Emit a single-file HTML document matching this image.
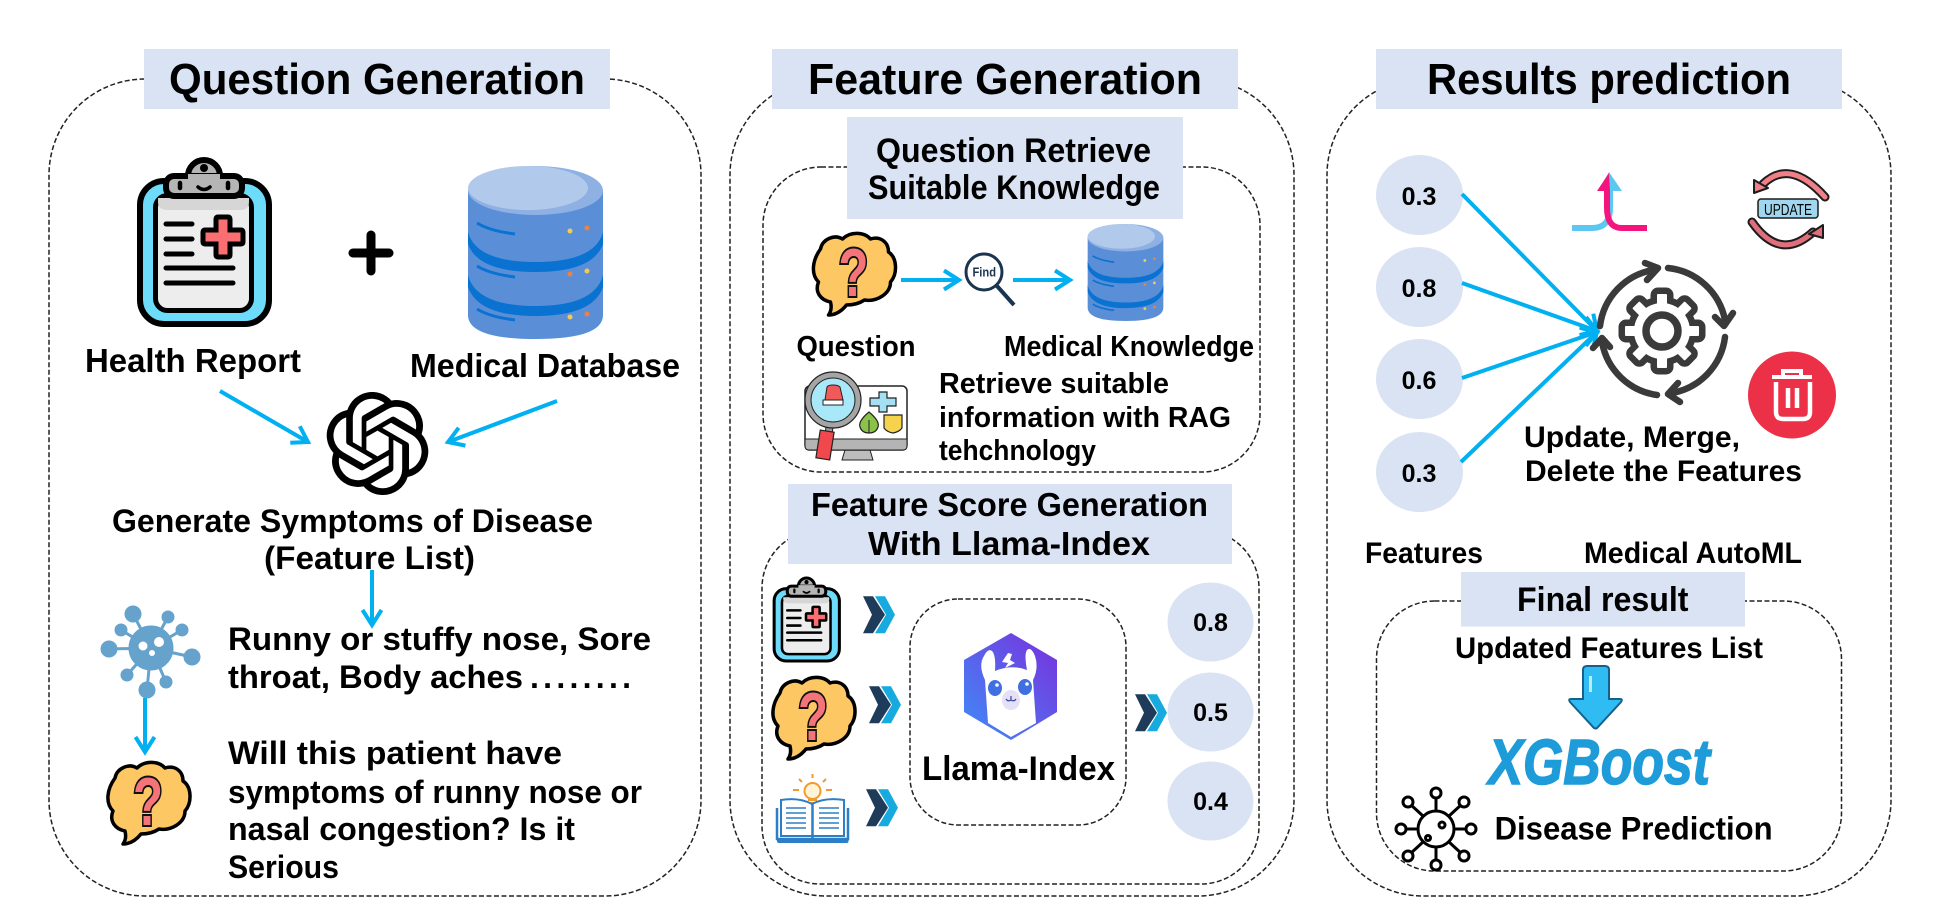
<!DOCTYPE html>
<html lang="en">
<head>
<meta charset="utf-8">
<title>Medical AutoML Diagram</title>
<style>
html,body{margin:0;padding:0;background:#fff;width:1946px;height:922px;overflow:hidden}
svg{display:block}
text{font-family:"Liberation Sans","DejaVu Sans",sans-serif;font-weight:700;fill:#000}
.d{fill:none;stroke:#222;stroke-width:1.5;stroke-dasharray:5 2.5}
.b{fill:#DAE3F3}
.a{stroke:#00B0F0;stroke-width:4;fill:none;marker-end:url(#ah)}
.e{fill:#DAE3F3}
.n{font-size:25px;text-anchor:middle}
</style>
</head>
<body>
<svg width="1946" height="922" viewBox="0 0 1946 922" xmlns="http://www.w3.org/2000/svg">
<defs>
<marker id="ah" markerUnits="userSpaceOnUse" markerWidth="28" markerHeight="28" refX="0" refY="0" viewBox="-18 -14 24 28" orient="auto" overflow="visible">
<path d="M-15 -9.5L0 0L-15 9.5" fill="none" stroke="#00B0F0" stroke-width="4"/>
</marker>
<linearGradient id="lg" x1="0" y1="1" x2="1" y2="0"><stop offset="0" stop-color="#3F8CF8"/><stop offset="1" stop-color="#7A2FDC"/></linearGradient>

<symbol id="clip" viewBox="0 0 136 172" overflow="visible">
<rect x="4" y="25" width="129" height="143" rx="24" fill="#6DDCFB" stroke="#000" stroke-width="6"/>
<rect x="19.5" y="39.5" width="96" height="115" rx="12" fill="#EEEDEE" stroke="#000" stroke-width="5"/>
<path d="M22 42H113V46Q113 54 104 54H32Q22 54 22 46Z" fill="#D6D6D6"/>
<circle cx="68" cy="20" r="16" fill="#B5B5B5" stroke="#000" stroke-width="6"/>
<rect x="30" y="20" width="76" height="20" rx="8" fill="#B5B5B5" stroke="#000" stroke-width="6"/>
<rect x="52" y="18" width="32" height="10" fill="#B5B5B5"/>
<circle cx="68" cy="12" r="4" fill="#000"/>
<path d="M44 27V32M92 27V32" stroke="#000" stroke-width="4.5" stroke-linecap="round"/>
<path d="M62 31q6 5 12 0" fill="none" stroke="#000" stroke-width="3.5" stroke-linecap="round"/>
<path d="M80 63q0-2 2-2h10q2 0 2 2v11h11q2 0 2 2v10q0 2-2 2H94v11q0 2-2 2H82q-2 0-2-2V88H69q-2 0-2-2V76q0-2 2-2h11Z" fill="#FB6E72" stroke="#000" stroke-width="5"/>
<path d="M30 68H56M30 83H56M30 98H56M30 112H97M30 127H97" stroke="#000" stroke-width="5" stroke-linecap="round" fill="none"/>
</symbol>

<symbol id="db" viewBox="0 0 135 173">
<path d="M0 24V149Q0 173 67.5 173T135 149V24Z" fill="#5A8FD8"/>
<ellipse cx="67.5" cy="24.5" rx="67.5" ry="24.5" fill="#8FB0E3"/>
<ellipse cx="60" cy="22" rx="60" ry="22" fill="#B1CAEC"/>
<path d="M0 66Q8 96 67.5 96T135 66V78Q125 106 67.5 106T0 78Z" fill="#0A72D0"/>
<path d="M0 109Q8 140 67.5 140T135 109V121Q125 150 67.5 150T0 121Z" fill="#0A72D0"/>
<path d="M9 57Q22 65 47 68M9 100Q22 108 47 111M9 143Q22 151 47 154" fill="none" stroke="#0A72D0" stroke-width="3"/>
<circle cx="102" cy="65" r="2.5" fill="#F7C94D"/><circle cx="119" cy="62" r="2.5" fill="#F0803C"/>
<circle cx="102" cy="108" r="2.5" fill="#F0803C"/><circle cx="119" cy="105" r="2.5" fill="#F7C94D"/>
<circle cx="102" cy="151" r="2.5" fill="#F7C94D"/><circle cx="119" cy="148" r="2.5" fill="#F0803C"/>
</symbol>

<symbol id="cloud" viewBox="0 0 83 84" overflow="visible">
<path d="M8 17C10 7 22 2 30 7C38-1 52 0 58 7C68 4 76 10 76 20C85 26 85 42 78 50C78 62 64 70 52 68C46 72 40 73 34 73C30 78 24 83 16 83C19 79 19 74 18 70C8 68 2 60 6 50C-2 42 0 28 8 17Z" fill="#FDC864" stroke="#000" stroke-width="3.5" stroke-linejoin="round"/>
<text x="26" y="64" font-size="68" textLength="30" lengthAdjust="spacingAndGlyphs" style="fill:#F4747A;stroke:#111;stroke-width:4;paint-order:stroke">?</text>
</symbol>

<symbol id="chev" viewBox="0 0 32 37">
<polygon points="0,0 10,0 22,18.5 10,37 0,37 9,18.5" fill="#1E3C5A"/>
<polygon points="12,0 22,0 32,18.5 22,37 12,37 23,18.5" fill="#16AADF"/>
</symbol>

<symbol id="openai" viewBox="0 0 24 24">
<path d="M22.2819 9.8211a5.9847 5.9847 0 0 0-.5157-4.9108 6.0462 6.0462 0 0 0-6.5098-2.9A6.0651 6.0651 0 0 0 4.9807 4.1818a5.9847 5.9847 0 0 0-3.9977 2.9 6.0462 6.0462 0 0 0 .7427 7.0966 5.98 5.98 0 0 0 .511 4.9107 6.051 6.051 0 0 0 6.5146 2.9001A5.9847 5.9847 0 0 0 13.2599 24a6.0557 6.0557 0 0 0 5.7718-4.2058 5.9894 5.9894 0 0 0 3.9977-2.9001 6.0557 6.0557 0 0 0-.7475-7.0729zm-9.022 12.6081a4.4755 4.4755 0 0 1-2.8764-1.0408l.1419-.0804 4.7783-2.7582a.7948.7948 0 0 0 .3927-.6813v-6.7369l2.02 1.1686a.071.071 0 0 1 .038.052v5.5826a4.504 4.504 0 0 1-4.4945 4.4944zm-9.6607-4.1254a4.4708 4.4708 0 0 1-.5346-3.0137l.142.0852 4.783 2.7582a.7712.7712 0 0 0 .7806 0l5.8428-3.3685v2.3324a.0804.0804 0 0 1-.0332.0615L9.74 19.9502a4.4992 4.4992 0 0 1-6.1408-1.6464zM2.3408 7.8956a4.485 4.485 0 0 1 2.3655-1.9728V11.6a.7664.7664 0 0 0 .3879.6765l5.8144 3.3543-2.0201 1.1685a.0757.0757 0 0 1-.071 0l-4.8303-2.7865A4.504 4.504 0 0 1 2.3408 7.872zm16.5963 3.8558L13.1038 8.364 15.1192 7.2a.0757.0757 0 0 1 .071 0l4.8303 2.7913a4.4944 4.4944 0 0 1-.6765 8.1042v-5.6772a.79.79 0 0 0-.407-.667zm2.0107-3.0231l-.142-.0852-4.7735-2.7818a.7759.7759 0 0 0-.7854 0L9.409 9.2297V6.8974a.0662.0662 0 0 1 .0284-.0615l4.8303-2.7866a4.4992 4.4992 0 0 1 6.6802 4.66zM8.3065 12.863l-2.02-1.1638a.0804.0804 0 0 1-.038-.0567V6.0742a4.4992 4.4992 0 0 1 7.3757-3.4537l-.142.0805L8.704 5.459a.7948.7948 0 0 0-.3927.6813zm1.0976-2.3654l2.602-1.4998 2.6069 1.4998v2.9994l-2.5974 1.4997-2.6067-1.4997Z" fill="#000"/>
</symbol>

<g id="gearshapes">
<rect x="-5" y="-37" width="10" height="74" rx="1"/>
<rect x="-5" y="-37" width="10" height="74" rx="1" transform="rotate(45)"/>
<rect x="-5" y="-37" width="10" height="74" rx="1" transform="rotate(90)"/>
<rect x="-5" y="-37" width="10" height="74" rx="1" transform="rotate(135)"/>
<circle r="28"/>
</g>
</defs>

<!-- Panel 1 -->
<rect class="d" x="49" y="79" width="652" height="817" rx="96"/>
<rect class="b" x="144" y="49" width="466" height="60"/>
<text x="169" y="94" font-size="44" textLength="416" lengthAdjust="spacingAndGlyphs">Question Generation</text>
<use href="#clip" x="136" y="156" width="136" height="172"/>
<path d="M353 253H389M371 235V271" stroke="#000" stroke-width="9" stroke-linecap="round"/>
<use href="#db" x="468" y="166" width="135" height="173"/>
<text x="85" y="372" font-size="33" textLength="216" lengthAdjust="spacingAndGlyphs">Health Report</text>
<text x="410" y="377" font-size="33" textLength="270" lengthAdjust="spacingAndGlyphs">Medical Database</text>
<line class="a" x1="220" y1="391" x2="308" y2="442"/>
<line class="a" x1="557" y1="401" x2="448" y2="442"/>
<use href="#openai" x="326" y="392" width="103" height="103"/>
<text x="112" y="532" font-size="32" textLength="481" lengthAdjust="spacingAndGlyphs">Generate Symptoms of Disease</text>
<text x="264" y="569" font-size="32" textLength="211" lengthAdjust="spacingAndGlyphs">(Feature List)</text>
<line class="a" x1="372" y1="570" x2="372" y2="625"/>
<g fill="#65A3CC" stroke="#65A3CC">
<path d="M151 648L109 649M151 648L192 657M151 648L133 614M151 648L168 617M151 648L182 630M151 648L121 630M151 648L127 675M151 648L166 682M151 648L147 690" stroke-width="3"/>
<circle cx="151" cy="648" r="22"/>
<circle cx="109" cy="649" r="8"/><circle cx="192" cy="657" r="8"/><circle cx="133" cy="614" r="8"/><circle cx="168" cy="617" r="6"/><circle cx="182" cy="630" r="6"/><circle cx="121" cy="630" r="6"/><circle cx="127" cy="675" r="6"/><circle cx="166" cy="682" r="6"/><circle cx="147" cy="690" r="8"/>
</g>
<circle cx="143" cy="646" r="4.5" fill="#fff"/><circle cx="159" cy="642" r="5" fill="#fff"/><circle cx="152" cy="653" r="3" fill="#fff"/>
<line class="a" x1="145" y1="698" x2="145" y2="752"/>
<use href="#cloud" x="107" y="761" width="83" height="84"/>
<text x="228" y="650" font-size="32" textLength="423" lengthAdjust="spacingAndGlyphs">Runny or stuffy nose, Sore</text>
<text x="228" y="688" font-size="32" textLength="295" lengthAdjust="spacingAndGlyphs">throat, Body aches</text>
<text x="530" y="688" font-size="32" textLength="101" lengthAdjust="spacing">........</text>
<text x="228" y="764" font-size="32" textLength="334" lengthAdjust="spacingAndGlyphs">Will this patient have</text>
<text x="228" y="803" font-size="32" textLength="414" lengthAdjust="spacingAndGlyphs">symptoms of runny nose or</text>
<text x="228" y="840" font-size="32" textLength="347" lengthAdjust="spacingAndGlyphs">nasal congestion? Is it</text>
<text x="228" y="878" font-size="32" textLength="111" lengthAdjust="spacingAndGlyphs">Serious</text>

<!-- Panel 2 -->
<rect class="d" x="730" y="79" width="564" height="817" rx="96"/>
<rect class="b" x="772" y="49" width="466" height="60"/>
<text x="808" y="94" font-size="44" textLength="394" lengthAdjust="spacingAndGlyphs">Feature Generation</text>
<rect class="d" x="763" y="167" width="497" height="305" rx="58"/>
<rect class="b" x="847" y="117" width="336" height="102"/>
<text x="876" y="162" font-size="34" textLength="275" lengthAdjust="spacingAndGlyphs">Question Retrieve</text>
<text x="868" y="199" font-size="34" textLength="292" lengthAdjust="spacingAndGlyphs">Suitable Knowledge</text>
<use href="#cloud" x="811" y="232" width="86" height="84"/>
<line class="a" x1="901" y1="280" x2="959" y2="280"/>
<circle cx="984" cy="272" r="18" fill="#fff" stroke="#1A3550" stroke-width="3"/>
<text x="972.5" y="276.5" font-size="13" textLength="23.5" lengthAdjust="spacingAndGlyphs" style="fill:#1A3550">Find</text>
<path d="M997 286L1014 305" stroke="#1A3550" stroke-width="4"/>
<line class="a" x1="1013" y1="280" x2="1070" y2="280"/>
<use href="#db" x="1087" y="224" width="77" height="97" preserveAspectRatio="none"/>
<text x="796.5" y="356" font-size="29" textLength="119" lengthAdjust="spacingAndGlyphs">Question</text>
<text x="1004" y="356" font-size="29" textLength="250" lengthAdjust="spacingAndGlyphs">Medical Knowledge</text>
<!-- monitor -->
<path d="M845 450H870L873 460H842Z" fill="#BDBDBD" stroke="#222" stroke-width="1"/>
<rect x="805" y="386" width="102" height="64" rx="5" fill="#fff" stroke="#222" stroke-width="1.5"/>
<path d="M805 439H907V446Q907 450 903 450H809Q805 450 805 446Z" fill="#B4B4B4" stroke="#222" stroke-width="1"/>
<rect x="826" y="422" width="7" height="10" fill="#999" stroke="#222" stroke-width="1" transform="rotate(8 829 427)"/>
<rect x="818" y="431" width="14" height="28" fill="#F0484C" stroke="#222" stroke-width="1.2" transform="rotate(9 825 445)"/>
<circle cx="833" cy="400" r="25" fill="#A9E8F8" stroke="#A5A5A5" stroke-width="6"/>
<circle cx="833" cy="400" r="28" fill="none" stroke="#222" stroke-width="1.2"/>
<circle cx="833" cy="400" r="22" fill="none" stroke="#222" stroke-width="1"/>
<path d="M825 400L827 387q1-2 6-2t7 2L843 400Z" fill="#F15A5A" stroke="#222" stroke-width="1"/>
<rect x="823" y="400" width="20" height="5" fill="#fff" stroke="#222" stroke-width="1"/>
<path d="M879 392h8v6h9v8h-9v6h-8v-6h-9v-8h9Z" fill="#A5DFF2" stroke="#222" stroke-width="1.2"/>
<path d="M869 412q11 9 9 15q-2 6-9 6q-7 0-9-6q-2-6 9-15Z" fill="#8BC34A" stroke="#222" stroke-width="1.2"/>
<path d="M869 420V433" stroke="#222" stroke-width="1"/>
<path d="M884 415h18v13q-3 4-9 5q-6-1-9-5Z" fill="#F5D34D" stroke="#222" stroke-width="1.2"/>
<text x="939" y="393" font-size="29" textLength="230" lengthAdjust="spacingAndGlyphs">Retrieve suitable</text>
<text x="939" y="427" font-size="29" textLength="292" lengthAdjust="spacingAndGlyphs">information with RAG</text>
<text x="939" y="460" font-size="29" textLength="157" lengthAdjust="spacingAndGlyphs">tehchnology</text>

<rect class="d" x="762" y="530" width="497" height="354" rx="58"/>
<rect class="b" x="788" y="484" width="444" height="80"/>
<text x="811" y="516" font-size="33" textLength="397" lengthAdjust="spacingAndGlyphs">Feature Score Generation</text>
<text x="868" y="555" font-size="33" textLength="282" lengthAdjust="spacingAndGlyphs">With Llama-Index</text>
<use href="#clip" x="772" y="576" width="69" height="87" preserveAspectRatio="none"/>
<use href="#cloud" x="771" y="676" width="85" height="84"/>
<!-- book -->
<circle cx="812.5" cy="791" r="8" fill="#FFF3D8" stroke="#F39A2D" stroke-width="2"/>
<path d="M808 800h9M809 803h7M812.5 774v4M799 779l3 3M826 779l-3 3M793 790h6M826 790h6" stroke="#F39A2D" stroke-width="2" fill="none"/>
<path d="M781 800q18-3 31 4q13-7 32 -4v36h-32h-31Z" fill="#fff" stroke="#2C7FC6" stroke-width="2"/>
<path d="M777 808v31h71v-31M812.5 804v34" fill="none" stroke="#2C7FC6" stroke-width="2.5"/>
<path d="M786 808h20M786 813h20M786 818h20M786 823h20M786 828h20M819 808h20M819 813h20M819 818h20M819 823h20M819 828h20" stroke="#2C7FC6" stroke-width="1.5"/>
<rect x="777" y="838" width="71.5" height="5" rx="2" fill="#2C7FC6"/>
<use href="#chev" x="863" y="596" width="32" height="37.5"/>
<use href="#chev" x="869" y="686" width="32" height="37.5"/>
<use href="#chev" x="866" y="789" width="32" height="37.5"/>
<use href="#chev" x="1135" y="694" width="32" height="37.5"/>
<rect class="d" x="910" y="599" width="216" height="226" rx="48"/>
<polygon points="1011,633 1057,660 1057,712 1011,740 964,712 964,660" fill="url(#lg)"/>
<path d="M988 723L985 680Q978 665 984 656Q988 648 992 651Q996 655 995 671Q1011 664 1027 670Q1024 654 1027 650Q1031 646 1035 656Q1039 668 1033 680L1036 723L1011 737Z" fill="#fff"/>
<path d="M1008 653L1002 662L1008 663L1005 668L1015 663L1010 660L1012 654Z" fill="#fff"/>
<ellipse cx="995" cy="688" rx="7" ry="8" fill="#3F6FE0"/><ellipse cx="1025" cy="687" rx="7" ry="8" fill="#3F6FE0"/>
<circle cx="997" cy="685" r="1.8" fill="#fff"/><circle cx="1027" cy="684" r="1.8" fill="#fff"/>
<ellipse cx="1011" cy="700" rx="9" ry="10" fill="#E5DFF7"/>
<path d="M1006 699q2 3 5 1q3 2 5-1M1011 696v4" fill="none" stroke="#3A4A9A" stroke-width="1.2"/>
<text x="922" y="780" font-size="34" textLength="193" lengthAdjust="spacingAndGlyphs">Llama-Index</text>
<ellipse class="e" cx="1210.5" cy="622" rx="43" ry="39.5"/><text class="n" x="1210.5" y="631">0.8</text>
<ellipse class="e" cx="1210.5" cy="712" rx="43" ry="39.5"/><text class="n" x="1210.5" y="721">0.5</text>
<ellipse class="e" cx="1210.5" cy="801" rx="43" ry="39.5"/><text class="n" x="1210.5" y="810">0.4</text>

<!-- Panel 3 -->
<rect class="d" x="1327" y="79" width="564" height="817" rx="96"/>
<rect class="b" x="1376" y="49" width="466" height="60"/>
<text x="1427" y="94" font-size="44" textLength="364" lengthAdjust="spacingAndGlyphs">Results prediction</text>
<ellipse class="e" cx="1419.5" cy="195" rx="43.5" ry="40"/><text class="n" x="1419" y="205">0.3</text>
<ellipse class="e" cx="1419.5" cy="287" rx="43.5" ry="40"/><text class="n" x="1419" y="297">0.8</text>
<ellipse class="e" cx="1419.5" cy="379" rx="43.5" ry="40"/><text class="n" x="1419" y="389">0.6</text>
<ellipse class="e" cx="1419.5" cy="472" rx="43.5" ry="40"/><text class="n" x="1419" y="482">0.3</text>
<line class="a" x1="1462" y1="194" x2="1597" y2="331"/>
<line class="a" x1="1462" y1="283" x2="1597" y2="331"/>
<line class="a" x1="1462" y1="378" x2="1597" y2="332"/>
<line class="a" x1="1461" y1="462" x2="1597" y2="332"/>
<!-- merge -->
<path d="M1572 228H1592Q1610 228 1610 208V190" fill="none" stroke="#5CC8F2" stroke-width="6"/>
<path d="M1598 191L1609 172L1622 191Z" fill="#5CC8F2"/>
<path d="M1647 228H1622Q1607 228 1607 208V190" fill="none" stroke="#F5147E" stroke-width="6"/>
<path d="M1597 191L1609 173L1610 191Z" fill="#F5147E"/>
<!-- update -->
<path d="M1763 184Q1790 158 1825 197" fill="none" stroke="#1c1c1c" stroke-width="9" stroke-linecap="round"/>
<path d="M1763 184Q1790 158 1825 197" fill="none" stroke="#F07F88" stroke-width="5" stroke-linecap="round"/>
<path d="M1752 222Q1780 262 1813 232" fill="none" stroke="#1c1c1c" stroke-width="9" stroke-linecap="round"/>
<path d="M1752 222Q1780 262 1813 232" fill="none" stroke="#DF6F7C" stroke-width="5" stroke-linecap="round"/>
<path d="M1754 180L1754 193L1768 188Z" fill="#F07F88" stroke="#1c1c1c" stroke-width="2" stroke-linejoin="round"/>
<path d="M1823 225L1823 238L1809 234Z" fill="#DF6F7C" stroke="#1c1c1c" stroke-width="2" stroke-linejoin="round"/>
<rect x="1758" y="199" width="60" height="19" rx="3" fill="#A0D6EE" stroke="#1c1c1c" stroke-width="1.5"/>
<text x="1764" y="215" font-size="16" textLength="48" lengthAdjust="spacingAndGlyphs" style="font-weight:400">UPDATE</text>
<!-- gear -->
<g transform="translate(1662 331)">
<use href="#gearshapes" fill="#3A3A3A" stroke="#3A3A3A" stroke-width="13" stroke-linejoin="round"/>
<use href="#gearshapes" fill="#fff"/>
<circle r="16" fill="#fff" stroke="#3A3A3A" stroke-width="7.5"/>
</g>
<g fill="none" stroke="#3A3A3A" stroke-width="6.5" stroke-linecap="round" stroke-linejoin="round">
<path d="M1600 326A65 65 0 0 1 1653 270"/>
<path d="M1668 268A65 65 0 0 1 1725 320"/>
<path d="M1725 337A65 65 0 0 1 1672 393"/>
<path d="M1657 395A65 65 0 0 1 1602 342"/>
<path d="M1645 263L1658 268L1647 280"/>
<path d="M1715 317L1724 326L1733 313"/>
<path d="M1678 383L1668 394L1680 402"/>
<path d="M1593 348L1602 338L1610 347"/>
</g>
<ellipse cx="1792" cy="395" rx="44" ry="43.5" fill="#EC3047"/>
<path d="M1772 377H1812M1783 377V371H1801V377" fill="none" stroke="#fff" stroke-width="4"/>
<path d="M1776 382V412q0 7 7 7h20q7 0 7-7V382" fill="none" stroke="#fff" stroke-width="4.5"/>
<path d="M1788 388V408M1797 388V408" stroke="#fff" stroke-width="4.5"/>
<text x="1524" y="447" font-size="30" textLength="216" lengthAdjust="spacingAndGlyphs">Update, Merge,</text>
<text x="1525" y="481" font-size="30" textLength="277" lengthAdjust="spacingAndGlyphs">Delete the Features</text>
<text x="1365" y="563" font-size="30" textLength="118" lengthAdjust="spacingAndGlyphs">Features</text>
<text x="1584" y="563" font-size="30" textLength="218" lengthAdjust="spacingAndGlyphs">Medical AutoML</text>
<rect class="d" x="1376.5" y="601" width="465" height="270" rx="58"/>
<rect class="b" x="1461" y="572" width="284" height="54.5"/>
<text x="1517" y="611" font-size="34" textLength="171.5" lengthAdjust="spacingAndGlyphs">Final result</text>
<text x="1455" y="658" font-size="30" textLength="308" lengthAdjust="spacingAndGlyphs">Updated Features List</text>
<path d="M1583 670q0-4 4-4h18q4 0 4 4v29h11q3 0 1 3l-24 26q-1 1-3 0l-24-26q-2-3 1-3h12Z" fill="#2FBCF2" stroke="#17608C" stroke-width="2"/>
<rect x="1589" y="676" width="3" height="16" fill="#BDEBFB"/>
<text x="1488.5" y="784" font-size="64" textLength="221.5" lengthAdjust="spacingAndGlyphs" style="fill:#1E9BD9;stroke:#1E9BD9;stroke-width:1.5;font-style:italic">XGBoost</text>
<g fill="none" stroke="#000" stroke-width="3">
<circle cx="1436" cy="829" r="18" fill="#fff"/>
<path d="M1436 811V796M1436 847V862M1418 829H1403M1454 829H1469M1423 816L1410 804M1449 816L1462 804M1423 842L1410 854M1449 842L1462 854"/>
<circle cx="1436" cy="793" r="5" fill="#fff"/><circle cx="1436" cy="865" r="5" fill="#fff"/>
<circle cx="1401" cy="829" r="5" fill="#fff"/><circle cx="1471" cy="829" r="5" fill="#fff"/>
<circle cx="1408" cy="802" r="5" fill="#fff"/><circle cx="1464" cy="802" r="5" fill="#fff"/>
<circle cx="1408" cy="856" r="5" fill="#fff"/><circle cx="1464" cy="856" r="5" fill="#fff"/>
<circle cx="1442" cy="825" r="3"/><circle cx="1428" cy="838" r="2.5"/>
</g>
<text x="1494.6" y="839.5" font-size="32" textLength="278" lengthAdjust="spacingAndGlyphs">Disease Prediction</text>
</svg>
</body>
</html>
